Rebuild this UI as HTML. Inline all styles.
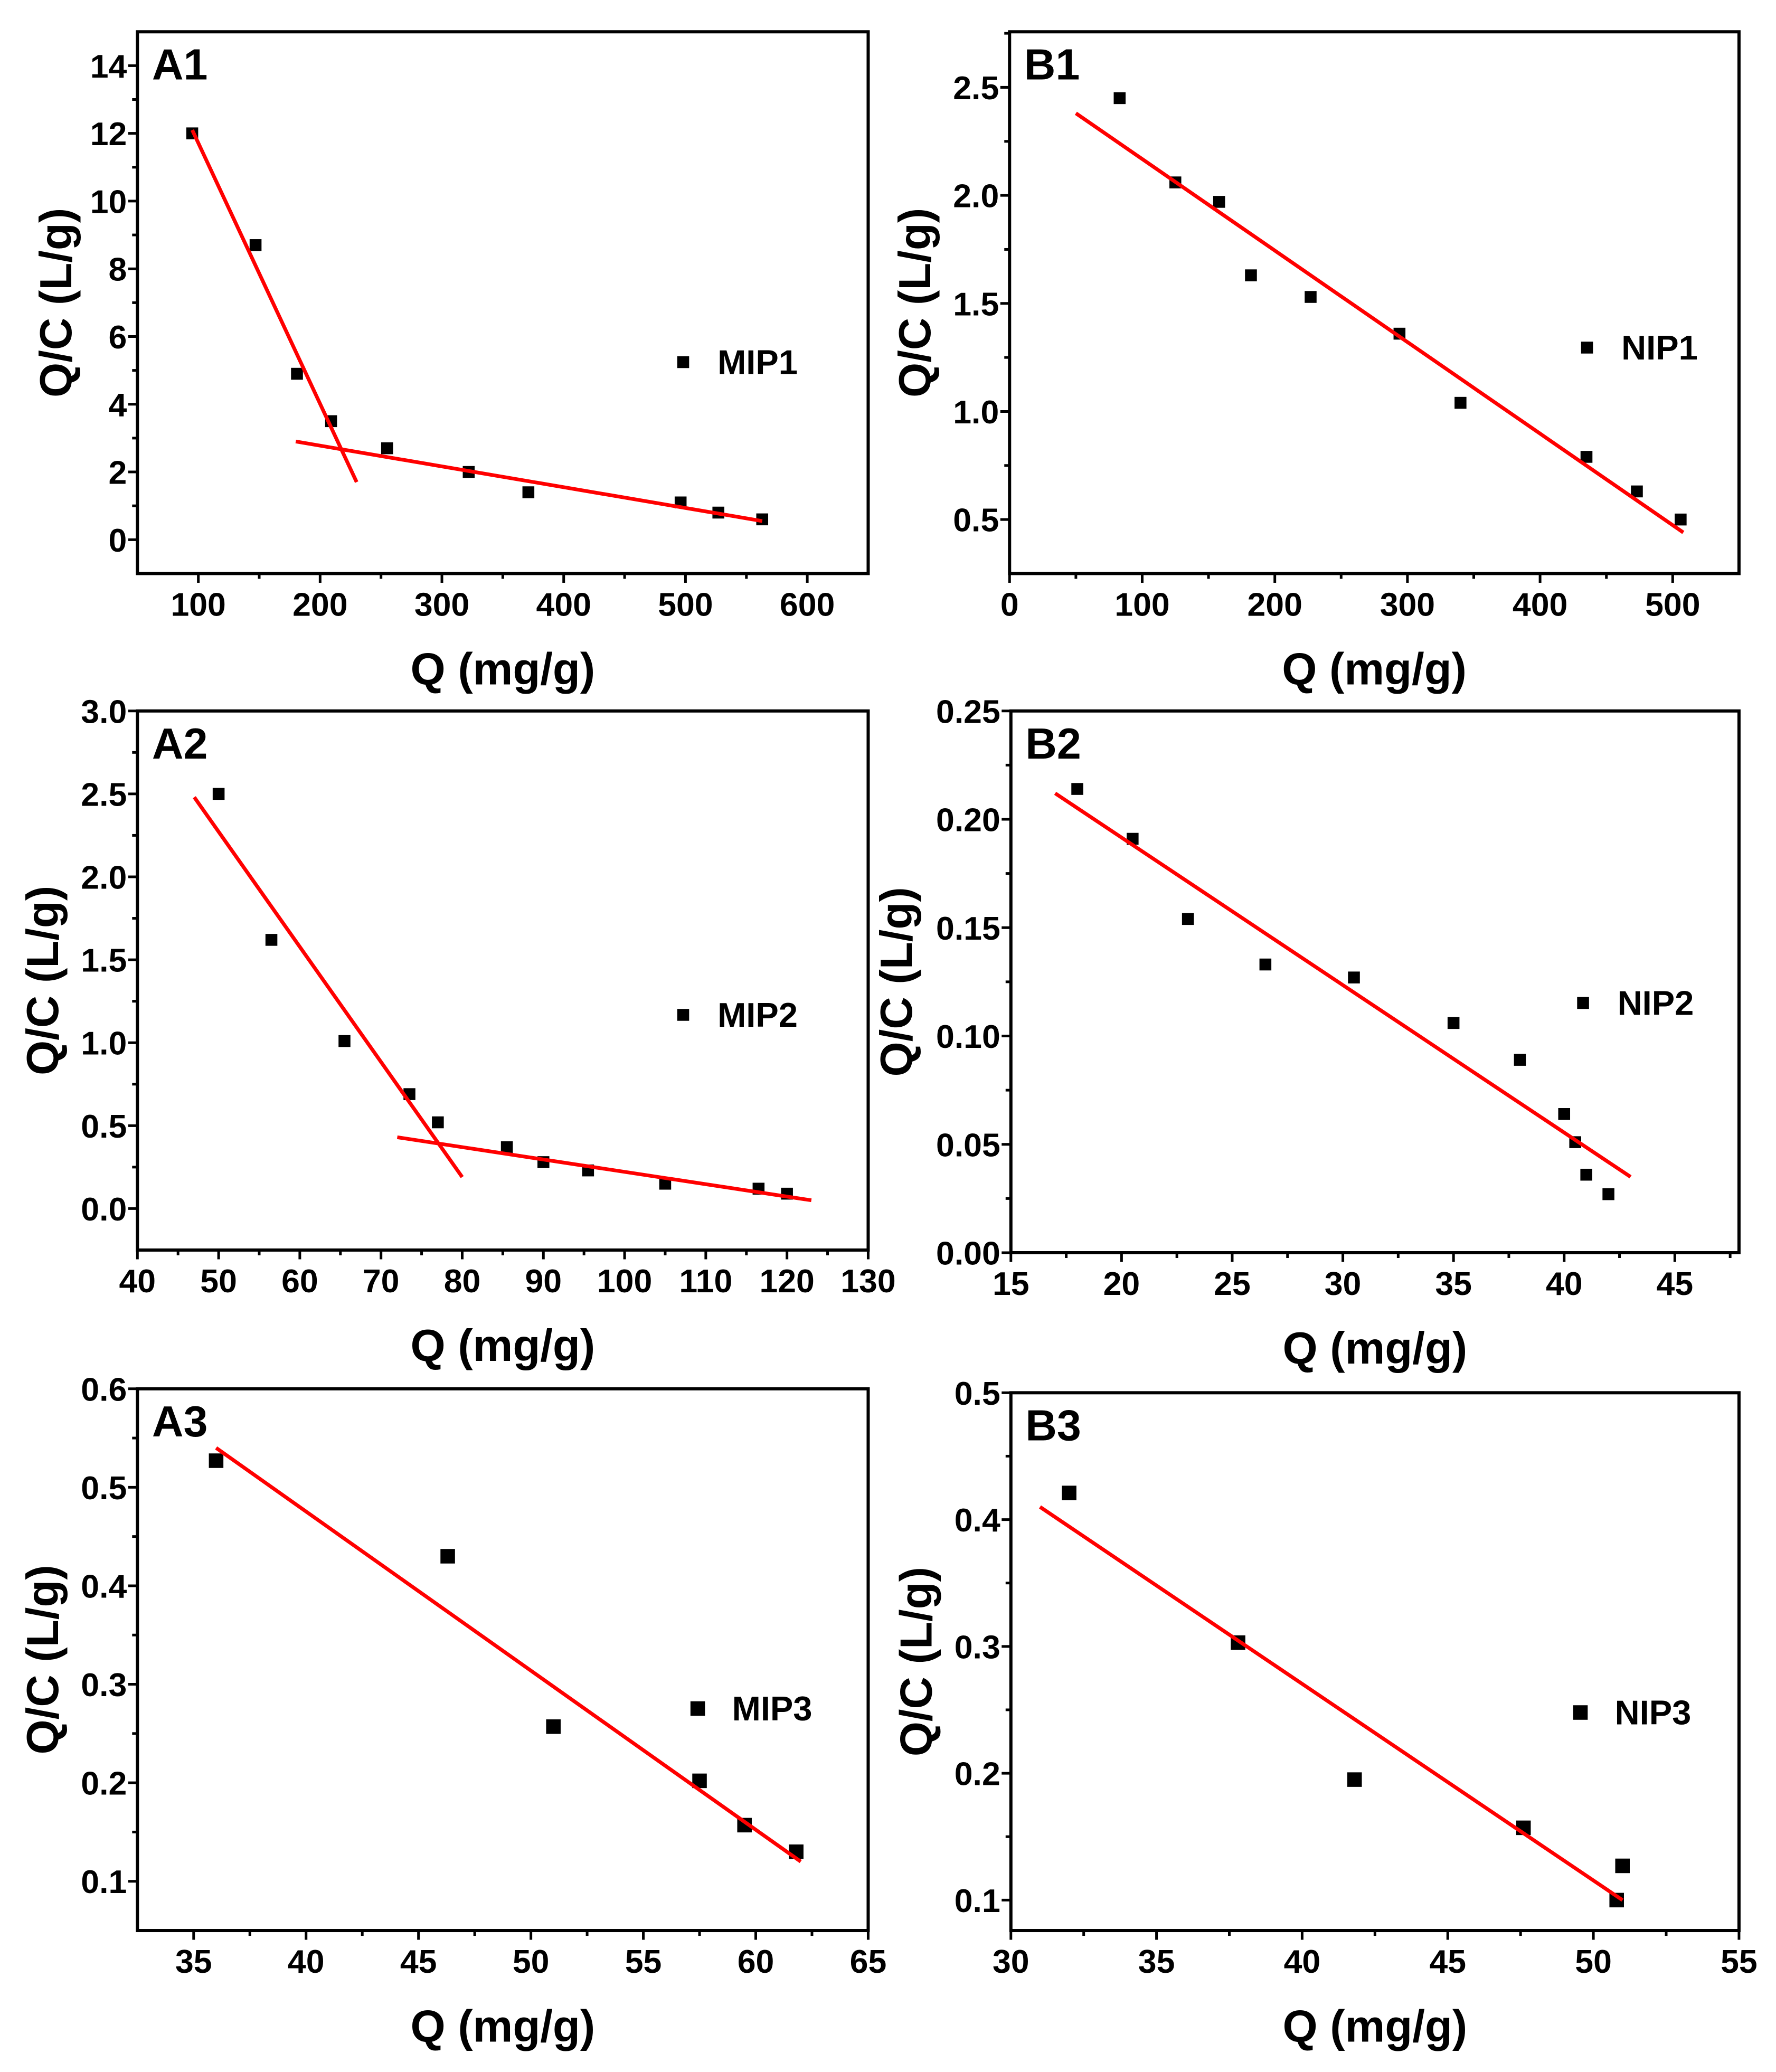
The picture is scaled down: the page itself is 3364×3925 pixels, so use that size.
<!DOCTYPE html>
<html><head><meta charset="utf-8">
<style>
html,body{margin:0;padding:0;background:#fff;}
svg{display:block;}
text{font-family:"Liberation Sans",Arial,sans-serif;font-weight:bold;fill:#000;}
</style></head>
<body>
<svg id="fig" width="3364" height="3925" viewBox="0 0 1344 1568" xmlns="http://www.w3.org/2000/svg"></svg>
<script>
// ---- data arrays ----
const a1Q = [95,147,181,209,255,322,371,496,527,563];
const a1QC = [12,8.7,4.9,3.5,2.7,2.0,1.4,1.1,0.8,0.6];
const a1FitX = [[95,230],[180,563]];
const a1FitY = [[12.1,1.7],[2.9,0.55]];
const a1XTicks = [100,200,300,400,500,600];
const a1YTicks = [0,2,4,6,8,10,12,14];

const b1Q = [83,125,158,182,227,294,340,435,473,506];
const b1QC = [2.45,2.06,1.97,1.63,1.53,1.36,1.04,0.79,0.63,0.5];
const b1FitX = [[50,508]];
const b1FitY = [[2.38,0.44]];
const b1XTicks = [0,100,200,300,400,500];
const b1YTicks = [0.5,1.0,1.5,2.0,2.5];

const a2Q = [50,56.5,65.5,73.5,77,85.5,90,95.5,105,116.5,120];
const a2QC = [2.5,1.62,1.01,0.69,0.52,0.37,0.28,0.23,0.15,0.12,0.09];
const a2FitX = [[47,80],[72,123]];
const a2FitY = [[2.48,0.19],[0.43,0.05]];
const a2XTicks = [40,50,60,70,80,90,100,110,120,130];
const a2YTicks = [0,0.5,1.0,1.5,2.0,2.5,3.0];

const b2Q = [18,20.5,23,26.5,30.5,35,38,40,40.5,41,42];
const b2QC = [0.214,0.191,0.154,0.133,0.127,0.106,0.089,0.064,0.051,0.036,0.027];
const b2FitX = [[17,43]];
const b2FitY = [[0.212,0.035]];
const b2XTicks = [15,20,25,30,35,40,45];
const b2YTicks = [0,0.05,0.10,0.15,0.20,0.25];

const a3Q = [36,46.3,51,57.5,59.5,61.8];
const a3QC = [0.527,0.43,0.257,0.202,0.157,0.13];
const a3FitX = [[36,62]];
const a3FitY = [[0.54,0.12]];
const a3XTicks = [35,40,45,50,55,60,65];
const a3YTicks = [0.1,0.2,0.3,0.4,0.5,0.6];

const b3Q = [32,37.8,41.8,47.6,51,50.8];
const b3QC = [0.421,0.303,0.195,0.157,0.127,0.1];
const b3FitX = [[31,51]];
const b3FitY = [[0.41,0.1]];
const b3XTicks = [30,35,40,45,50,55];
const b3YTicks = [0.1,0.2,0.3,0.4,0.5];

const NS = "http://www.w3.org/2000/svg";
const svg = document.getElementById('fig');
function mk(tag, attrs, parent){
  const e = document.createElementNS(NS, tag);
  for (const k in attrs) e.setAttribute(k, attrs[k]);
  (parent||svg).appendChild(e);
  return e;
}

function panel(o){
  const g = mk('g', {});
  
  
  const sx = v => o.L + (v - o.x0) / (o.x1 - o.x0) * (o.R - o.L);
  const sy = v => o.B - (v - o.y0) / (o.y1 - o.y0) * (o.B - o.T);
  const fr = mk('rect', {x:o.L, y:o.T, width:o.R-o.L, height:o.B-o.T, fill:'none', stroke:'#000', 'stroke-width':2.4}, g);
  
  
  const xs = o.xt[1]-o.xt[0];
  for (let i = 0; i < o.xt.length; i++){
    const v = o.xt[i], px = sx(v);
    mk('line', {x1:px, x2:px, y1:o.B, y2:o.B+7, stroke:'#000', 'stroke-width':2}, g);
    const t = mk('text', {x:px, y:o.B+32, 'text-anchor':'middle', 'font-size':25}, g);
    t.textContent = v.toFixed(o.xd);
    
    
    const m = v + xs/2;
    if (m < o.x1) { const mx = sx(m); mk('line', {x1:mx, x2:mx, y1:o.B, y2:o.B+4, stroke:'#000', 'stroke-width':2}, g); }
    if (i === 0 && v - xs/2 > o.x0) { const mx = sx(v - xs/2); mk('line', {x1:mx, x2:mx, y1:o.B, y2:o.B+4, stroke:'#000', 'stroke-width':2}, g); }
  }
  const ys = o.yt[1]-o.yt[0];
  for (let i = 0; i < o.yt.length; i++){
    const v = o.yt[i], py = sy(v);
    mk('line', {x1:o.L-7, x2:o.L, y1:py, y2:py, stroke:'#000', 'stroke-width':2}, g);
    const t = mk('text', {x:o.L-8, y:py+9, 'text-anchor':'end', 'font-size':25}, g);
    t.textContent = v.toFixed(o.yd);
    
    
    const m = v + ys/2;
    if (m < o.y1) { const my = sy(m); mk('line', {x1:o.L-4, x2:o.L, y1:my, y2:my, stroke:'#000', 'stroke-width':2}, g); }
    if (i === 0 && v - ys/2 > o.y0) { const my = sy(v - ys/2); mk('line', {x1:o.L-4, x2:o.L, y1:my, y2:my, stroke:'#000', 'stroke-width':2}, g); }
  }
  const xt = mk('text', {x:(o.L+o.R)/2, y:o.B+84, 'text-anchor':'middle', 'font-size':34}, g);
  xt.textContent = 'Q (mg/g)';
  
  
  const cy = (o.T+o.B)/2;
  const yt = mk('text', {x:o.ytx, y:cy, 'text-anchor':'middle', 'font-size':34, transform:'rotate(-90 '+o.ytx+' '+cy+')'}, g);
  yt.textContent = 'Q/C (L/g)';
  
  
  const pl = mk('text', {x:o.L+11, y:o.T+36, 'font-size':33}, g);
  pl.textContent = o.label;
  
  
  const s = o.ms;
  for (let i = 0; i < o.q.length; i++){
    const p = mk('rect', {x:sx(o.q[i])-s/2, y:sy(o.qc[i])-s/2, width:s, height:s, fill:'#000'}, g);
    
    
  }
  for (let i = 0; i < o.fx.length; i++){
    const l = mk('line', {x1:sx(o.fx[i][0]), y1:sy(o.fy[i][0]), x2:sx(o.fx[i][1]), y2:sy(o.fy[i][1]), stroke:'#ff0000', 'stroke-width':2.8}, g);
    
    
  }
  const lg = mk('g', {}, g);
  
  
  mk('rect', {x:o.lgx-s/2, y:o.lgy-s/2, width:s, height:s, fill:'#000'}, lg);
  const lt = mk('text', {x:o.lgx+26, y:o.lgy+9, 'font-size':26}, lg);
  lt.textContent = o.lgText;
}

panel({id:'a1', label:'A1', L:104, R:657, T:24, B:434, x0:50, x1:650, y0:-1, y1:15, xt:a1XTicks, yt:a1YTicks, xd:0, yd:0,
  q:a1Q, qc:a1QC, fx:a1FitX, fy:a1FitY, ms:9, ytx:54, lgx:517, lgy:274, lgText:'MIP1'});
panel({id:'b1', label:'B1', L:764, R:1316, T:24, B:434, x0:0, x1:550, y0:0.25, y1:2.757, xt:b1XTicks, yt:b1YTicks, xd:0, yd:1,
  q:b1Q, qc:b1QC, fx:b1FitX, fy:b1FitY, ms:9, ytx:704, lgx:1201, lgy:263, lgText:'NIP1'});
panel({id:'a2', label:'A2', L:104, R:657, T:538, B:946, x0:40, x1:130, y0:-0.25, y1:3.0, xt:a2XTicks, yt:a2YTicks, xd:0, yd:1,
  q:a2Q, qc:a2QC, fx:a2FitX, fy:a2FitY, ms:9, ytx:44, lgx:517, lgy:768, lgText:'MIP2'});
panel({id:'b2', label:'B2', L:765, R:1316, T:538, B:948, x0:15, x1:47.9, y0:0, y1:0.25, xt:b2XTicks, yt:b2YTicks, xd:0, yd:2,
  q:b2Q, qc:b2QC, fx:b2FitX, fy:b2FitY, ms:9, ytx:690, lgx:1198, lgy:759, lgText:'NIP2'});
panel({id:'a3', label:'A3', L:104, R:657, T:1051, B:1461, x0:32.5, x1:65, y0:0.05, y1:0.6, xt:a3XTicks, yt:a3YTicks, xd:0, yd:1,
  q:a3Q, qc:a3QC, fx:a3FitX, fy:a3FitY, ms:11, ytx:44, lgx:528, lgy:1293, lgText:'MIP3'});
panel({id:'b3', label:'B3', L:765, R:1316, T:1054, B:1461, x0:30, x1:55, y0:0.076, y1:0.5, xt:b3XTicks, yt:b3YTicks, xd:0, yd:1,
  q:b3Q, qc:b3QC, fx:b3FitX, fy:b3FitY, ms:11, ytx:705, lgx:1196, lgy:1296, lgText:'NIP3'});
</script>
</body></html>
